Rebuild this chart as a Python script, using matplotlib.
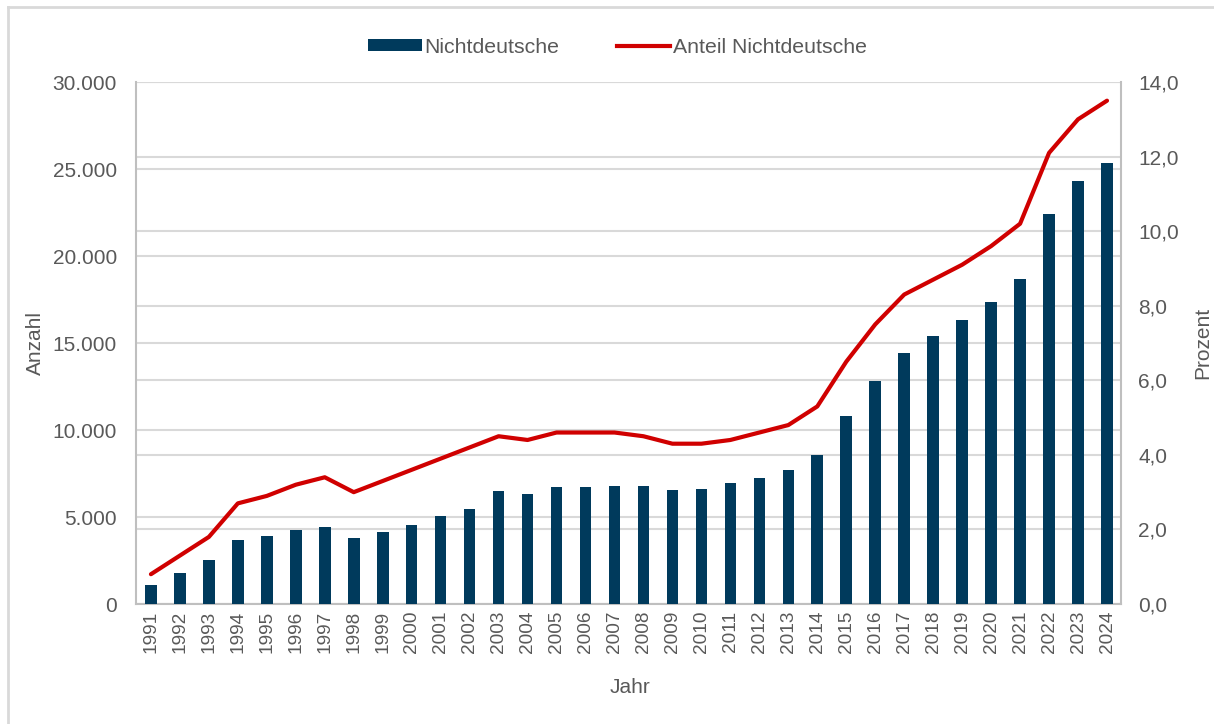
import matplotlib
matplotlib.use("Agg")
import matplotlib.pyplot as plt
import matplotlib.transforms as mtransforms
from matplotlib.lines import Line2D
from matplotlib.patches import Patch
from matplotlib.ticker import FuncFormatter

years = [str(y) for y in range(1991, 2025)]
nichtdeutsche = [1090, 1780, 2510, 3700, 3890, 4250, 4410, 3780, 4120, 4560,
                 5040, 5440, 6480, 6300, 6710, 6750, 6780, 6780, 6540, 6610,
                 6940, 7230, 7720, 8570, 10780, 12840, 14450, 15380, 16310, 17380,
                 18670, 22440, 24290, 25360]
anteil = [0.8, 1.3, 1.8, 2.7, 2.9, 3.2, 3.4, 3.0, 3.3, 3.6,
          3.9, 4.2, 4.5, 4.4, 4.6, 4.6, 4.6, 4.5, 4.3, 4.3,
          4.4, 4.6, 4.8, 5.3, 6.5, 7.5, 8.3, 8.7, 9.1, 9.6,
          10.2, 12.1, 13.0, 13.5]
left_ticks = [0, 5000, 10000, 15000, 20000, 25000, 30000]
right_ticks = [0, 2, 4, 6, 8, 10, 12, 14]

plt.rcParams['font.family'] = ['Liberation Sans', 'DejaVu Sans']
txt = '#595959'
grid_c = '#D9D9D9'
spine_c = '#BFBFBF'
bar_c = '#003A5C'
line_c = '#D00000'

fig = plt.figure(figsize=(12.14, 7.24), dpi=100)
ax1 = fig.add_axes([0.1124, 0.1657, 0.8114, 0.7210])
ax2 = ax1.twinx()

x = list(range(len(years)))
ax1.bar(x, nichtdeutsche, width=0.4, color=bar_c, zorder=3)
ax1.set_ylim(0, 30000)
ax1.set_xlim(-0.5, len(years) - 0.5)
ax1.set_yticks(left_ticks)
ax1.yaxis.set_major_formatter(FuncFormatter(lambda v, p: f"{int(v):,}".replace(",", ".")))
ax1.set_xticks(x)
ax1.set_xticklabels(years, rotation=90)

for t in left_ticks:
    ax1.axhline(t, color=grid_c, lw=1.5, zorder=1)
blend = mtransforms.blended_transform_factory(ax1.transAxes, ax2.transData)

ax2.set_ylim(0, 14)
ax2.set_yticks(right_ticks)
ax2.yaxis.set_major_formatter(FuncFormatter(lambda v, p: f"{v:.1f}".replace(".", ",")))
for t in right_ticks:
    ax1.add_line(Line2D([0, 1], [t, t], transform=blend, color=grid_c, lw=1.5, zorder=1))
ax2.plot(x, anteil, color=line_c, lw=3, solid_joinstyle='round', solid_capstyle='round', zorder=4)

for ax in (ax1, ax2):
    for s in ax.spines.values():
        s.set_visible(False)
ax1.spines['left'].set_visible(True)
ax1.spines['bottom'].set_visible(True)
ax2.spines['right'].set_visible(True)
ax1.spines['left'].set_color(spine_c)
ax1.spines['bottom'].set_color(spine_c)
ax2.spines['right'].set_color(spine_c)
ax1.spines['left'].set_linewidth(1.5)
ax1.spines['bottom'].set_linewidth(1.5)
ax2.spines['right'].set_linewidth(1.5)
ax2.patch.set_visible(False)

ax1.tick_params(axis='y', length=0, pad=14, labelsize=15, labelcolor=txt)
ax1.tick_params(axis='x', length=0, pad=5, labelsize=13.7, labelcolor=txt)
ax2.tick_params(axis='y', length=0, pad=12, labelsize=15, labelcolor=txt)

fig.text(0.519, 0.050, 'Jahr', ha='center', va='center', fontsize=15, color=txt)
fig.text(0.029, 0.526, 'Anzahl', ha='center', va='center', rotation=90, fontsize=15, color=txt)
fig.text(0.991, 0.526, 'Prozent', ha='center', va='center', rotation=90, fontsize=15, color=txt)

handles = [Patch(facecolor=bar_c, edgecolor='none'),
           Line2D([0], [0], color=line_c, lw=3)]
fig.legend(handles, ['Nichtdeutsche', 'Anteil Nichtdeutsche'], loc='center',
           bbox_to_anchor=(0.509, 0.935), ncol=2, frameon=False, fontsize=15.3,
           handlelength=2.5, handleheight=0.45, handletextpad=0.15, columnspacing=2.7,
           labelcolor=txt)

fig.add_artist(Line2D([8/1214, 8/1214], [0, 1 - 7/724], transform=fig.transFigure, color=grid_c, lw=2))
fig.add_artist(Line2D([8/1214, 1], [1 - 7/724, 1 - 7/724], transform=fig.transFigure, color=grid_c, lw=2))

fig.savefig('out.png', dpi=100)
